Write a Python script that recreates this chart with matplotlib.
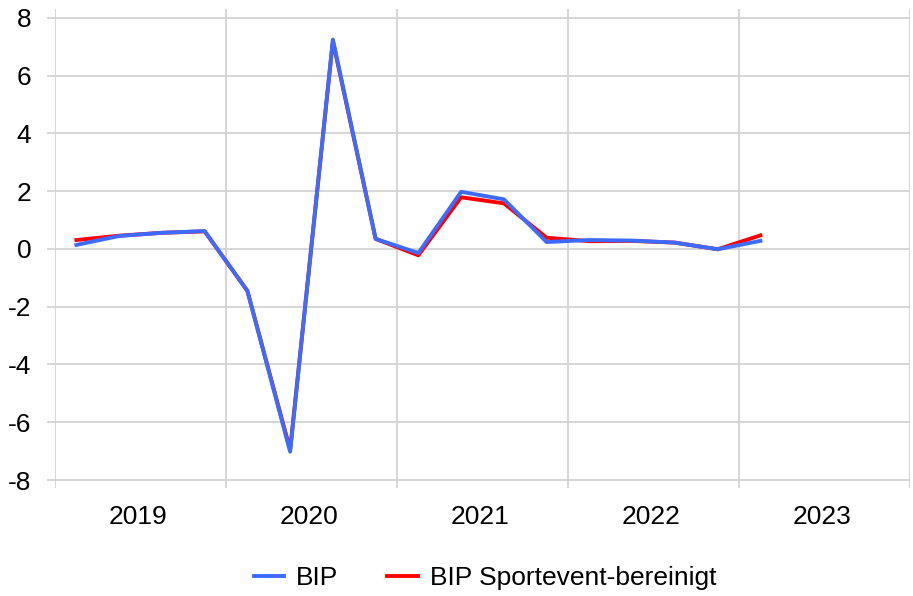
import matplotlib
matplotlib.use("Agg")
import matplotlib.pyplot as plt

plt.rcParams["font.family"] = ["Liberation Sans", "DejaVu Sans"]

# Quartale 2019Q1 .. 2023Q1
quarters = list(range(17))
bip = [0.14, 0.45, 0.56, 0.62, -1.45, -7.02, 7.25, 0.35,
       -0.14, 1.98, 1.72, 0.24, 0.31, 0.29, 0.22, -0.01, 0.28]
bip_sport = [0.31, 0.46, 0.56, 0.61, -1.45, -6.95, 7.2, 0.35,
             -0.22, 1.79, 1.58, 0.39, 0.27, 0.28, 0.22, -0.01, 0.47]
years = ["2019", "2020", "2021", "2022", "2023"]
y_ticks = [-8, -6, -4, -2, 0, 2, 4, 6, 8]

grid_col = "#d3d3d3"
fs = 19

fig = plt.figure(figsize=(9.13, 5.96), dpi=100)
ax = fig.add_axes([55 / 913, 1 - 488 / 596, 855 / 913, 479 / 596])

ax.plot(quarters, bip_sport, color="#ff0000", linewidth=2.8, label="BIP Sportevent-bereinigt", zorder=3)
ax.plot(quarters, bip, color="#3d6bff", linewidth=2.8, label="BIP", zorder=4)

ax.set_xlim(-0.5, 19.5)
ax.set_ylim(-8.277, 8.31)

# Jahresgrenzen als Gitterlinien, Jahreszahlen mittig
ax.set_xticks([-0.5 + 4 * i for i in range(6)])
ax.set_xticklabels([])
ax.set_xticks([1.45 + 4 * i for i in range(5)], minor=True)
ax.set_xticklabels(years, minor=True)
ax.tick_params(axis="x", which="major", length=0)
ax.tick_params(axis="x", which="minor", length=0, pad=12, labelsize=fs)

ax.set_yticks(y_ticks)
ax.set_yticklabels([str(v) for v in y_ticks])
ax.tick_params(axis="y", length=6, color=grid_col, width=1.3, pad=11, labelsize=fs)

ax.grid(True, which="major", color=grid_col, linewidth=1.3)
ax.set_axisbelow(True)
for s in ax.spines.values():
    s.set_visible(False)

handles, labels = ax.get_legend_handles_labels()
fig.legend(handles[::-1], labels[::-1], loc="center", ncol=2,
           bbox_to_anchor=(485 / 913, 1 - 578 / 596), frameon=False,
           fontsize=fs, handlelength=1.15, handletextpad=0.45, columnspacing=1.85)

fig.savefig("out.png", dpi=100)
